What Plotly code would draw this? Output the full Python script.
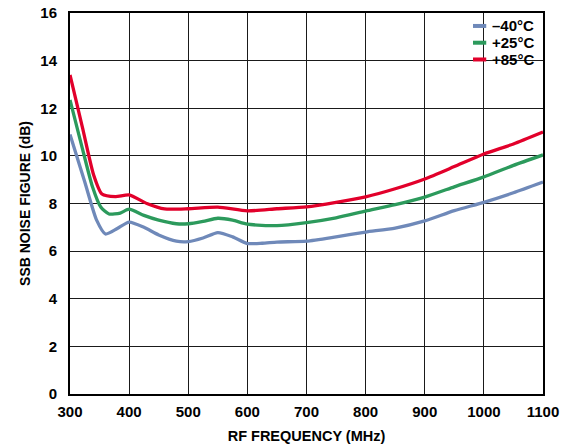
import plotly.graph_objects as go

# Data
freq_m40 = [300, 325, 345, 360, 380, 400, 425, 450, 480, 500, 525, 550, 575, 600, 625, 650, 700, 750, 800, 850, 900, 950, 1000, 1050, 1100]
nf_m40 = [10.9, 8.9, 7.3, 6.72, 6.95, 7.22, 7.0, 6.68, 6.42, 6.4, 6.55, 6.78, 6.6, 6.32, 6.33, 6.38, 6.42, 6.6, 6.8, 6.97, 7.27, 7.7, 8.05, 8.45, 8.9]

freq_p25 = [300, 320, 338, 352, 366, 385, 400, 425, 450, 480, 500, 525, 550, 575, 600, 650, 700, 750, 800, 850, 900, 950, 1000, 1050, 1100]
nf_p25 = [12.35, 10.4, 8.7, 7.85, 7.56, 7.6, 7.76, 7.5, 7.3, 7.15, 7.15, 7.25, 7.38, 7.3, 7.13, 7.07, 7.2, 7.4, 7.68, 7.95, 8.27, 8.7, 9.12, 9.6, 10.04]

freq_p85 = [300, 321, 340, 354, 377, 400, 430, 460, 500, 550, 600, 650, 700, 750, 800, 850, 900, 950, 1000, 1050, 1100]
nf_p85 = [13.4, 11.2, 9.2, 8.4, 8.29, 8.36, 8.0, 7.77, 7.78, 7.85, 7.69, 7.78, 7.86, 8.05, 8.28, 8.62, 9.03, 9.55, 10.08, 10.5, 11.0]

series_names = ["\u201340\u00b0C", "+25\u00b0C", "+85\u00b0C"]
colors = ["#6f89b9", "#2c9a5c", "#e2002b"]

x_ticks = [300, 400, 500, 600, 700, 800, 900, 1000, 1100]
y_ticks = [0, 2, 4, 6, 8, 10, 12, 14, 16]

font_family = "Liberation Sans, Arial, sans-serif"

fig = go.Figure()
for fx, fy, name, col in zip([freq_m40, freq_p25, freq_p85], [nf_m40, nf_p25, nf_p85], series_names, colors):
    fig.add_trace(go.Scatter(
        x=fx, y=fy, mode="lines", name=name, showlegend=False,
        line=dict(color=col, width=3.3, shape="spline", smoothing=0.6),
    ))

# Custom legend (white box over the grid, short line samples, bold labels)
shapes = [dict(type="rect", xref="paper", yref="paper", x0=0.837, x1=0.997, y0=0.852, y1=0.997,
               fillcolor="white", line=dict(width=0), layer="below")]
annotations = []
legend_rows = [0.966, 0.922, 0.878]
for name, col, yr in zip(series_names, colors, legend_rows):
    shapes.append(dict(type="line", xref="paper", yref="paper", x0=0.852, x1=0.880, y0=yr, y1=yr,
                       line=dict(color=col, width=4), layer="above"))
    annotations.append(dict(xref="paper", yref="paper", x=0.888, y=yr, xanchor="left", yanchor="middle",
                            text="<b>" + name + "</b>", showarrow=False,
                            font=dict(family=font_family, size=15, color="black")))

fig.update_layout(
    width=570, height=448,
    margin=dict(l=70, r=27, t=13, b=54, autoexpand=False),
    paper_bgcolor="white", plot_bgcolor="white",
    font=dict(family=font_family, size=13, color="black"),
    showlegend=False,
    shapes=shapes,
    annotations=annotations,
    xaxis=dict(
        range=[300, 1100], tickvals=x_ticks, ticktext=[str(v) for v in x_ticks],
        automargin=False,
        showgrid=True, gridcolor="#1a1a1a", gridwidth=1.4,
        showline=True, linecolor="black", linewidth=2, mirror=True,
        ticks="outside", ticklen=3, tickcolor="rgba(0,0,0,0)", zeroline=False,
        tickfont=dict(family=font_family, size=15, color="black", weight="bold"),
        title=dict(text="RF FREQUENCY (MHz)", standoff=12,
                   font=dict(family=font_family, size=14.5, color="black", weight="bold")),
    ),
    yaxis=dict(
        range=[0, 16], tickvals=y_ticks, ticktext=[str(v) for v in y_ticks],
        automargin=False,
        showgrid=True, gridcolor="#1a1a1a", gridwidth=1.4,
        showline=True, linecolor="black", linewidth=2, mirror=True,
        ticks="outside", ticklen=8, tickcolor="rgba(0,0,0,0)", zeroline=False,
        tickfont=dict(family=font_family, size=15, color="black", weight="bold"),
        title=dict(text="SSB NOISE FIGURE (dB)", standoff=6,
                   font=dict(family=font_family, size=14, color="black", weight="bold")),
    ),
)

# Remove the default 8 px page margin so the figure fills the window exactly
fig.write_html("out.html", config={"displayModeBar": False},
               post_script="document.body.style.margin='0px';")
